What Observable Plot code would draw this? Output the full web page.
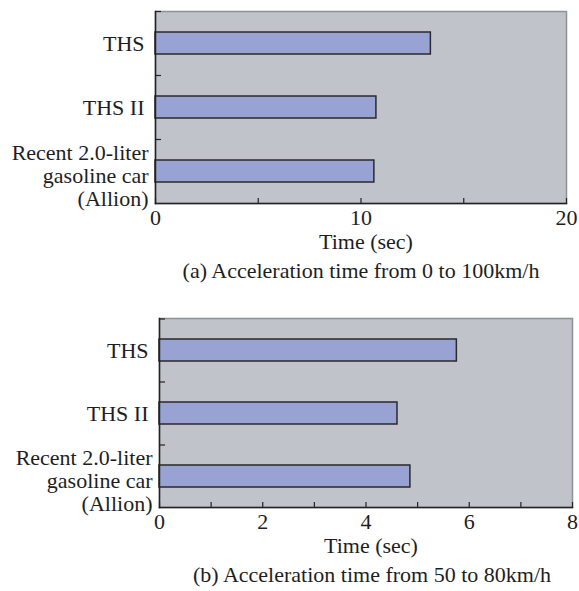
<!DOCTYPE html>
<html>
<head>
<meta charset="utf-8">
<script src="https://cdn.jsdelivr.net/npm/d3@7"></script>
<script src="https://cdn.jsdelivr.net/npm/@observablehq/plot@0.6"></script>
<style>
  html, body { margin: 0; padding: 0; background: #ffffff; }
  #root { width: 579px; height: 591px; position: relative; overflow: hidden; }
  #root svg { display: block; }
</style>
</head>
<body>
<div id="root"></div>
<script>
// ---- data ----
const categories = ["THS", "THS II", "Recent 2.0-liter\ngasoline car\n(Allion)"];
const accel0to100 = [13.4, 10.75, 10.65];   // seconds, 0 -> 100 km/h
const accel50to80 = [5.76, 4.61, 4.86];     // seconds, 50 -> 80 km/h
const ticksA = [0, 10, 20];
const minorTicksA = [0, 5, 10, 15, 20];
const ticksB = [0, 2, 4, 6, 8];
const minorTicksB = [0, 1, 2, 3, 4, 5, 6, 7, 8];
const xLabel = "Time (sec)";
const captionA = "(a) Acceleration time from 0 to 100km/h";
const captionB = "(b) Acceleration time from 50 to 80km/h";

const FONT = "'Liberation Serif', 'Times New Roman', serif";

function chart({values, domain, ticks, minorTicks, caption, height, marginTop, marginBottom, marginLeft, marginRight, captionDx}) {
  const data = categories.map((c, i) => ({cat: c, value: values[i]}));
  const plotH = height - marginTop - marginBottom;
  const plotW = 579 - marginLeft - marginRight;
  const step = plotH / categories.length;
  const multi = (d) => d.includes("\n");
  return Plot.plot({
    width: 579,
    height,
    marginTop, marginBottom, marginLeft, marginRight,
    style: {fontFamily: FONT, fontSize: "22px", background: "transparent", color: "#1e1e1e", overflow: "visible"},
    x: {domain, axis: null},
    y: {domain: categories, axis: null, paddingInner: 0.656, paddingOuter: 0.328},
    marks: [
      Plot.frame({fill: "#c0c3ca", stroke: "#8e9196", strokeWidth: 1.5}),
      Plot.barX(data, {x: "value", y: "cat", fill: "#99a3d3", stroke: "#2a2a2a", strokeWidth: 1.5}),
      // inward x ticks
      Plot.ruleX(minorTicks, {x: d => d, insetTop: plotH - 5, stroke: "#222", strokeWidth: 1.2}),
      // inward y ticks at band boundaries
      Plot.ruleY(categories, {y: d => d, dy: -step / 2, insetRight: plotW - 6, stroke: "#222", strokeWidth: 1.2}),
      Plot.frame({anchor: "left", stroke: "#222", strokeWidth: 1.5}),
      Plot.frame({anchor: "bottom", stroke: "#222", strokeWidth: 1.5}),
      // category labels
      Plot.text(categories.filter(d => !multi(d)), {y: d => d, text: d => d, frameAnchor: "left", textAnchor: "end", dx: -11, fill: "#1e1e1e"}),
      Plot.text(categories.filter(multi), {y: d => d, text: d => d, frameAnchor: "left", textAnchor: "end", dx: -7, dy: 4, lineHeight: 1.05, fill: "#1e1e1e"}),
      // x tick labels
      Plot.text(ticks, {x: d => d, text: d => String(d), frameAnchor: "bottom", dy: 21, fill: "#1e1e1e"}),
      // x axis label
      Plot.text([xLabel], {text: d => d, frameAnchor: "bottom", dx: 5, dy: 45, fill: "#1e1e1e"}),
      // caption
      Plot.text([caption], {text: d => d, frameAnchor: "bottom", dx: captionDx, dy: 74, fill: "#1e1e1e"})
    ]
  });
}

const root = document.getElementById("root");
const top1 = chart({
  values: accel0to100, domain: [0, 20], ticks: ticksA, minorTicks: minorTicksA, caption: captionA,
  height: 291, marginTop: 11, marginBottom: 88, marginLeft: 155, marginRight: 13, captionDx: 0
});
const bottom1 = chart({
  values: accel50to80, domain: [0, 8], ticks: ticksB, minorTicks: minorTicksB, caption: captionB,
  height: 300, marginTop: 27, marginBottom: 84, marginLeft: 159, marginRight: 7, captionDx: 6
});
root.appendChild(top1);
root.appendChild(bottom1);
</script>
</body>
</html>
